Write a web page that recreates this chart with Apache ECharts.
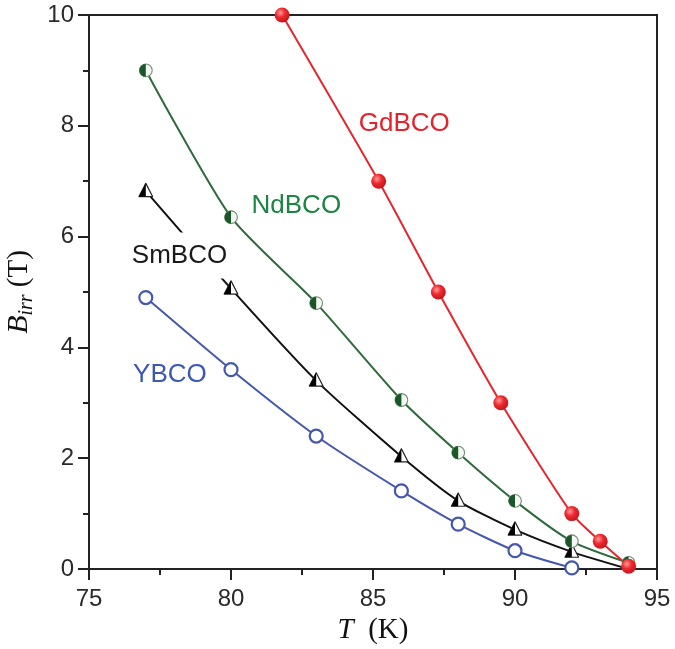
<!DOCTYPE html>
<html><head><meta charset="utf-8">
<script src="https://cdn.jsdelivr.net/npm/echarts@6/dist/echarts.min.js"></script>
<style>html,body{margin:0;padding:0;background:#fff}#c{width:675px;height:649px}</style>
</head><body><div id="c"></div>
<script>
// ---- data ----
var gdT = [81.8, 85.2, 87.3, 89.5, 92, 93, 94];
var gdB = [10.0, 7.0, 5.0, 3.0, 1.0, 0.5, 0.05];
var ndT = [77, 80, 83, 86, 88, 90, 92, 94];
var ndB = [9.0, 6.35, 4.8, 3.05, 2.1, 1.23, 0.5, 0.11];
var smT = [77, 80, 83, 86, 88, 90, 92];
var smB = [6.82, 5.06, 3.4, 2.03, 1.23, 0.71, 0.31];
var smLineEndT = 94, smLineEndB = 0.0;
var yT = [77, 80, 83, 86, 88, 90, 92];
var yB = [4.9, 3.6, 2.4, 1.41, 0.81, 0.33, 0.02];
var labelNames = ['GdBCO', 'NdBCO', 'SmBCO', 'YBCO'];
var labelT = [86.1, 82.3, 78.15, 77.85];
var labelB = [8.03, 6.56, 5.66, 3.51];

function pairs(a, b) { return a.map(function (v, i) { return [v, b[i]]; }); }
function svgUri(s) { return 'image://data:image/svg+xml;charset=utf-8,' + encodeURIComponent(s); }

var ndSym = svgUri('<svg xmlns="http://www.w3.org/2000/svg" width="40" height="40" viewBox="0 0 40 40">' +
  '<circle cx="20" cy="20" r="17" fill="#f4f8f2" stroke="#6f8f72" stroke-width="3"/>' +
  '<path d="M20,3 A17,17 0 0 0 20,37 Z" fill="#1a5628"/></svg>');
var smSym = svgUri('<svg xmlns="http://www.w3.org/2000/svg" width="40" height="40" viewBox="0 0 40 40">' +
  '<polygon points="20,3 37,36 3,36" fill="#ffffff" stroke="#222" stroke-width="3" stroke-linejoin="round"/>' +
  '<polygon points="20,3 20,36 3,36" fill="#000"/></svg>');

var sans = '"Liberation Sans", Arial, sans-serif';
var serif = '"Liberation Serif", "Times New Roman", serif';
var colors = { gd: '#e5262c', nd: '#2f6a3c', sm: '#111111', y: '#4658ad' };
var labelColors = ['#e4232b', '#1d8443', '#1a1a1a', '#3c58b4'];

var chart = echarts.init(document.getElementById('c'));
var axisCommon = {
  type: 'value',
  axisLine: { show: true, onZero: false, lineStyle: { color: '#222', width: 2 } },
  axisTick: { show: true, inside: false, length: 11, lineStyle: { color: '#222', width: 2 } },
  minorTick: { show: true, splitNumber: 2, length: 6, lineStyle: { color: '#222', width: 2 } },
  splitLine: { show: false },
  axisLabel: { fontSize: 24, color: '#2a2a2a', fontFamily: sans, margin: 18 }
};

function lineSeries(data, color) {
  return { type: 'line', data: data, smooth: 0.22, showSymbol: false, symbol: 'none',
    lineStyle: { color: color, width: 2 }, z: 2, silent: true, animation: false };
}

var series = [
  lineSeries(pairs(yT, yB), colors.y),
  lineSeries(pairs(smT, smB).concat([[smLineEndT, smLineEndB]]), colors.sm),
  lineSeries(pairs(ndT, ndB), colors.nd),
  lineSeries(pairs(gdT, gdB), colors.gd),
  { type: 'scatter', data: pairs(yT, yB), symbol: 'circle', symbolSize: 13, z: 5,
    itemStyle: { color: '#fff', borderColor: colors.y, borderWidth: 2.2, opacity: 1 } },
  { type: 'scatter', data: pairs(smT, smB), symbol: smSym, symbolSize: [16, 16], z: 5, symbolOffset: [0, -1],
    itemStyle: { opacity: 1 } },
  { type: 'scatter', data: pairs(ndT, ndB), symbol: ndSym, symbolSize: 15, z: 5, itemStyle: { opacity: 1 } },
  { type: 'scatter', data: pairs(gdT, gdB), symbol: 'circle', symbolSize: 15, z: 5,
    itemStyle: { opacity: 1, color: { type: 'radial', x: 0.38, y: 0.35, r: 0.7,
      colorStops: [{ offset: 0, color: '#ff9a9a' }, { offset: 0.45, color: '#ee2a30' }, { offset: 1, color: '#c0141a' }] } } },
  { type: 'scatter', z: 8, symbolSize: 1, itemStyle: { color: 'rgba(0,0,0,0)', opacity: 1 }, silent: true,
    data: labelNames.map(function (n, i) {
      return { value: [labelT[i], labelB[i]], name: n,
        label: { show: true, position: 'inside', formatter: n, fontFamily: sans, fontSize: 26,
          color: labelColors[i], opacity: 1,
          backgroundColor: n === 'SmBCO' ? '#ffffff' : 'transparent',
          padding: n === 'SmBCO' ? [18, 0, 2, 2] : 0 } };
    }) }
];

chart.setOption({
  animation: false,
  backgroundColor: '#ffffff',
  grid: { left: 89, right: 18, top: 15, bottom: 80, outerBoundsMode: 'none', containLabel: false,
    show: true, borderColor: '#222', borderWidth: 2, backgroundColor: 'transparent' },
  xAxis: Object.assign({}, axisCommon, { min: 75, max: 95, interval: 5,
    name: '{i|T}{n|  (K)}', nameLocation: 'middle', nameGap: 46,
    nameTextStyle: { rich: { i: { fontFamily: serif, fontStyle: 'italic', fontSize: 29, color: '#111' },
      n: { fontFamily: serif, fontSize: 29, color: '#111' } } } }),
  yAxis: Object.assign({}, axisCommon, { min: 0, max: 10, interval: 2,
    axisLabel: { fontSize: 24, color: '#2a2a2a', fontFamily: sans, margin: 15 },
    name: '{b|B}{s|irr}{n| (T)}', nameLocation: 'middle', nameGap: 30, nameRotate: 90,
    nameTextStyle: { rich: { b: { fontFamily: serif, fontStyle: 'italic', fontSize: 30, color: '#111' },
      s: { fontFamily: serif, fontStyle: 'italic', fontSize: 20, color: '#111', padding: [14, 0, 0, 0] },
      n: { fontFamily: serif, fontSize: 29, color: '#111' } } } }),
  series: series
});
</script></body></html>
